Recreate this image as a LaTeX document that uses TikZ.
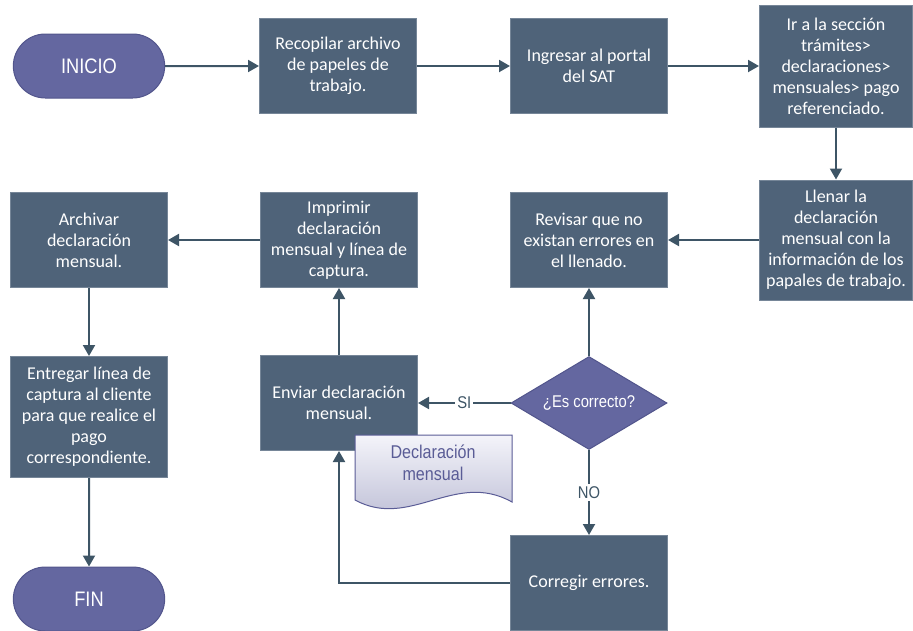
\documentclass[tikz,border=0pt]{standalone}
\usepackage{fontspec}
\setmainfont{Carlito}
\newfontfamily\narrowfont[FakeStretch=0.87]{Liberation Sans}
\usepackage{tikz}
\usetikzlibrary{arrows.meta}
\usetikzlibrary{shapes.geometric}
\usetikzlibrary{shapes.misc}
\usetikzlibrary{calc}

\definecolor{boxfill}{RGB}{79,99,121}
\definecolor{boxline}{RGB}{118,134,152}
\definecolor{termfill}{RGB}{100,103,160}
\definecolor{termline}{RGB}{82,85,140}
\definecolor{arrowcol}{RGB}{62,85,102}
\definecolor{docline}{RGB}{90,92,150}
\definecolor{doctop}{RGB}{244,244,250}
\definecolor{docbottom}{RGB}{184,185,210}

\tikzset{
  procbox/.style={rectangle, draw=boxline, fill=boxfill, line width=1pt,
    text=white, align=center, minimum width=157pt, minimum height=95pt,
    inner sep=2pt, font=\fontsize{18}{21}\selectfont},
  terminal/.style={rounded rectangle, draw=termline, fill=termfill, line width=1pt,
    text=white, minimum width=158pt, minimum height=64pt,
    font=\narrowfont\fontsize{21}{24}\selectfont},
  decision/.style={diamond, draw=termline, fill=termfill, line width=1pt,
    text=white, aspect=1.68, minimum width=156pt, minimum height=93pt, inner sep=0pt,
    font=\narrowfont\fontsize{17}{20}\selectfont},
  flow/.style={draw=arrowcol, line width=2pt, -{Triangle[length=11pt,width=12pt]}},
  branch/.style={fill=white, text=arrowcol, inner sep=2pt,
    font=\narrowfont\fontsize{17}{19}\selectfont},
}

\begin{document}
\begin{tikzpicture}[
  x=1pt,
  y=-1pt,
  ]
  \useasboundingbox (0,0) rectangle (913,630);

  % top row
  \node[terminal] (inicio) at (89,66) {INICIO};
  \node[procbox] (recop) at (338,66) {Recopilar archivo\\de papeles de\\trabajo.};
  \node[procbox] (portal) at (589,66) {Ingresar al portal\\del SAT};
  \node[procbox, minimum width=153pt, minimum height=122pt] (seccion) at (836,66)
    {Ir a la sección\\trámites>\\declaraciones>\\mensuales> pago\\referenciado.};

  % second row
  \node[procbox, minimum width=153pt, minimum height=120pt] (llenar) at (836,240)
    {Llenar la\\declaración\\mensual con la\\información de los\\papales de trabajo.};
  \node[procbox] (revisar) at (589,240) {Revisar que no\\existan errores en\\el llenado.};
  \node[procbox] (imprimir) at (339,240) {Imprimir\\declaración\\mensual y línea de\\captura.};
  \node[procbox] (archivar) at (89,240) {Archivar\\declaración\\mensual.};

  % lower part
  \node[procbox, minimum height=121pt] (entregar) at (89,417)
    {Entregar línea de\\captura al cliente\\para que realice el\\pago\\correspondiente.};
  \node[terminal] (fin) at (89,599) {FIN};
  \node[procbox] (enviar) at (339,403) {Enviar declaración\\mensual.};
  \node[decision] (correcto) at (589,403) {¿Es correcto?};
  \node[procbox] (corregir) at (589,583) {Corregir errores.};

  % document symbol
  \path[draw=docline, line width=1pt, top color=doctop, bottom color=docbottom]
    (355,435) -- (512,435) -- (512,502)
    .. controls (455,470) and (410,530) .. (355,500) -- cycle;
  \node[text=docline, align=center, font=\narrowfont\fontsize{18.5}{22}\selectfont]
    (decl) at (433,463) {Declaración\\mensual};

  % connectors
  \draw[flow] (inicio) -- (recop);
  \draw[flow] (recop) -- (portal);
  \draw[flow] (portal) -- (seccion);
  \draw[flow] (seccion) -- (llenar);
  \draw[flow] (llenar) -- (revisar);
  \draw[flow] (correcto) -- (revisar);
  \draw[flow] (correcto) -- node[branch] {SI} (enviar);
  \draw[flow] (correcto) -- node[branch] {NO} (corregir);
  \draw[flow] (corregir.west) -| (enviar.south);
  \draw[flow] (enviar) -- (imprimir);
  \draw[flow] (imprimir) -- (archivar);
  \draw[flow] (archivar) -- (entregar);
  \draw[flow] (entregar) -- (fin);

\end{tikzpicture}
\end{document}
